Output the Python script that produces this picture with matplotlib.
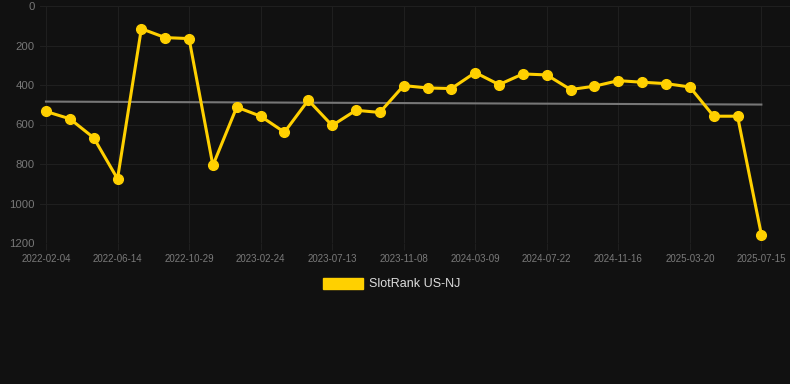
import matplotlib
matplotlib.use("Agg")
import matplotlib.pyplot as plt
from matplotlib.patches import Patch
import numpy as np

# rank values (lower is better, axis inverted)
ranks = [534, 571, 667, 875, 115, 160, 165, 807, 512, 558, 639, 477, 605, 528, 539,
         403, 415, 418, 337, 398, 344, 349, 423, 406, 378, 386, 393, 410, 558, 558, 1158]

tick_labels = ["2022-02-04", "2022-06-14", "2022-10-29", "2023-02-24", "2023-07-13",
               "2023-11-08", "2024-03-09", "2024-07-22", "2024-11-16", "2025-03-20",
               "2025-07-15"]

trend_ends = [484, 499]
y_ticks = [0, 200, 400, 600, 800, 1000, 1200]

bg = "#111111"
gold = "#FFD000"

plt.rcParams['font.family'] = ['Liberation Sans', 'DejaVu Sans']

fig = plt.figure(figsize=(7.9, 3.84), dpi=100, facecolor=bg)
ax = fig.add_axes([40 / 790, 1 - 243 / 384, 750 / 790, 237 / 384])
ax.set_facecolor(bg)

x = np.arange(len(ranks))
ax.plot([x[0], x[-1]], trend_ends, color="#777777", lw=1.5, zorder=2)
ax.plot(x, ranks, color=gold, lw=2.2, marker="o", markersize=7,
        markerfacecolor=gold, markeredgecolor=gold, zorder=3)

ax.set_xlim(-0.25, 31.2)
ax.set_ylim(1200, 0)
ax.set_yticks(y_ticks)
ax.set_yticklabels([str(v) for v in y_ticks])
ax.set_xticks(x[::3])
ax.set_xticklabels(tick_labels)

ax.grid(True, color="#1f1f1f", lw=0.8)
ax.set_axisbelow(True)
for s in ax.spines.values():
    s.set_visible(False)

ax.tick_params(axis="y", length=0, pad=4, labelsize=8.2, colors="#777777")
ax.tick_params(axis="x", length=5, width=0.8, color="#1f1f1f", pad=3,
               labelsize=7, labelcolor="#7a7a7a")

fig.legend(handles=[Patch(facecolor=gold, edgecolor=gold)], labels=["SlotRank US-NJ"],
           loc="center", bbox_to_anchor=(392 / 790, 1 - 284 / 384), frameon=False,
           fontsize=9, labelcolor="#dddddd", handlelength=3.2, handleheight=1.0,
           handletextpad=0.5)

fig.savefig("out.png", dpi=100, facecolor=bg)
